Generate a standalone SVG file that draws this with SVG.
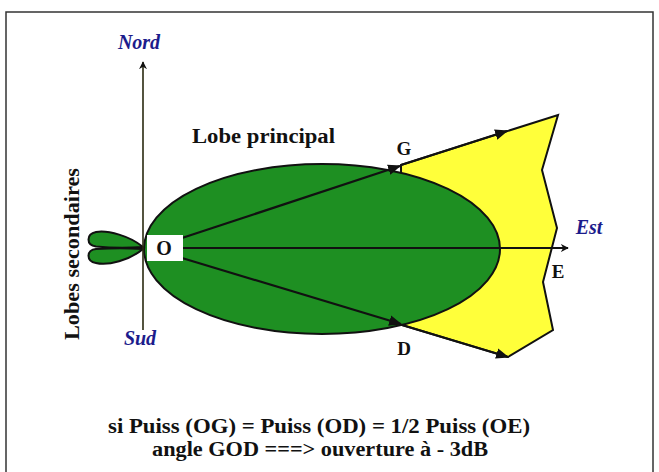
<svg xmlns="http://www.w3.org/2000/svg" width="659" height="472" viewBox="0 0 659 472">
<style>
.lbl{font-family:"Liberation Serif","DejaVu Serif","Times New Roman",serif;font-weight:bold;fill:#111}
.dir{font-family:"Liberation Serif","DejaVu Serif","Times New Roman",serif;font-weight:bold;font-style:italic;fill:#1c1c8c;font-size:20px}
.ln{stroke:#111;stroke-width:2.2;fill:none}
</style>
<defs>
<marker id="ah" viewBox="0 0 10 10" refX="9" refY="5" markerWidth="6" markerHeight="6" orient="auto" markerUnits="strokeWidth">
<path d="M0,1 L10,5 L0,9 Z" fill="#111"/>
</marker>
<marker id="ax" viewBox="0 0 10 10" refX="9" refY="5" markerWidth="8" markerHeight="8" orient="auto" markerUnits="userSpaceOnUse">
<path d="M0,0 L10,5 L0,10 L3,5 Z" fill="#111"/>
</marker>
</defs>
<rect x="0" y="0" width="659" height="472" fill="#ffffff"/>
<rect x="6" y="12" width="647" height="470" fill="none" stroke="#333" stroke-width="1.5"/>

<g id="yellow-lobe">
<path d="M401,165 L558,115 L542,170 L557,228 L543,282 L553,330 L508,357 L402,325 Z" fill="#ffff3a" stroke="#111" stroke-width="2"/>
</g>
<g id="main-lobe">
<ellipse cx="322" cy="249" rx="178" ry="85" fill="#1e8f22" stroke="#111" stroke-width="2"/>
</g>
<g id="side-lobes">
<path d="M143,247 C130,236 108,230 96,232 C86,234 86,245 96,246.5 C112,248 128,248 143,247 Z" fill="#1e8f22" stroke="#111" stroke-width="2"/>
<path d="M143,249 C130,260 108,266 96,263 C86,261 86,250 96,249 C112,248 128,248 143,249 Z" fill="#1e8f22" stroke="#111" stroke-width="2"/>
</g>
<g id="connectors">
<line x1="143" y1="330" x2="143" y2="62" stroke="#2a2a10" stroke-width="1.6" marker-end="url(#ax)"/>
<line x1="182" y1="248" x2="568" y2="248" class="ln" marker-end="url(#ax)"/>
<line x1="182" y1="238" x2="400" y2="166" class="ln" marker-end="url(#ah)"/>
<line x1="401" y1="165" x2="507" y2="131" class="ln" marker-end="url(#ah)"/>
<line x1="182" y1="258" x2="401" y2="324" class="ln" marker-end="url(#ah)"/>
<line x1="402" y1="325" x2="508" y2="357" class="ln" marker-end="url(#ah)"/>
</g>
<g id="origin">
<rect x="147" y="235" width="36" height="26" fill="#ffffff"/>
<text x="164" y="255" text-anchor="middle" class="lbl" font-size="20">O</text>
</g>
<g id="labels">
<text x="139" y="49" text-anchor="middle" class="dir">Nord</text>
<text x="140" y="345" text-anchor="middle" class="dir">Sud</text>
<text x="589" y="234" text-anchor="middle" class="dir">Est</text>
<text x="192" y="143" class="lbl" font-size="20" textLength="143" lengthAdjust="spacingAndGlyphs">Lobe principal</text>
<text x="404" y="155" text-anchor="middle" class="lbl" font-size="19">G</text>
<text x="404" y="355" text-anchor="middle" class="lbl" font-size="19">D</text>
<text x="558" y="278" text-anchor="middle" class="lbl" font-size="19">E</text>
<text transform="translate(79,340) rotate(-90)" class="lbl" font-size="21" textLength="172" lengthAdjust="spacingAndGlyphs">Lobes secondaires</text>
<text x="108" y="433" class="lbl" font-size="20" textLength="422" lengthAdjust="spacingAndGlyphs">si Puiss (OG) = Puiss (OD) = 1/2 Puiss (OE)</text>
<text x="152" y="456" class="lbl" font-size="20" textLength="336" lengthAdjust="spacingAndGlyphs">angle GOD ===&gt; ouverture à - 3dB</text>
</g>
</svg>
